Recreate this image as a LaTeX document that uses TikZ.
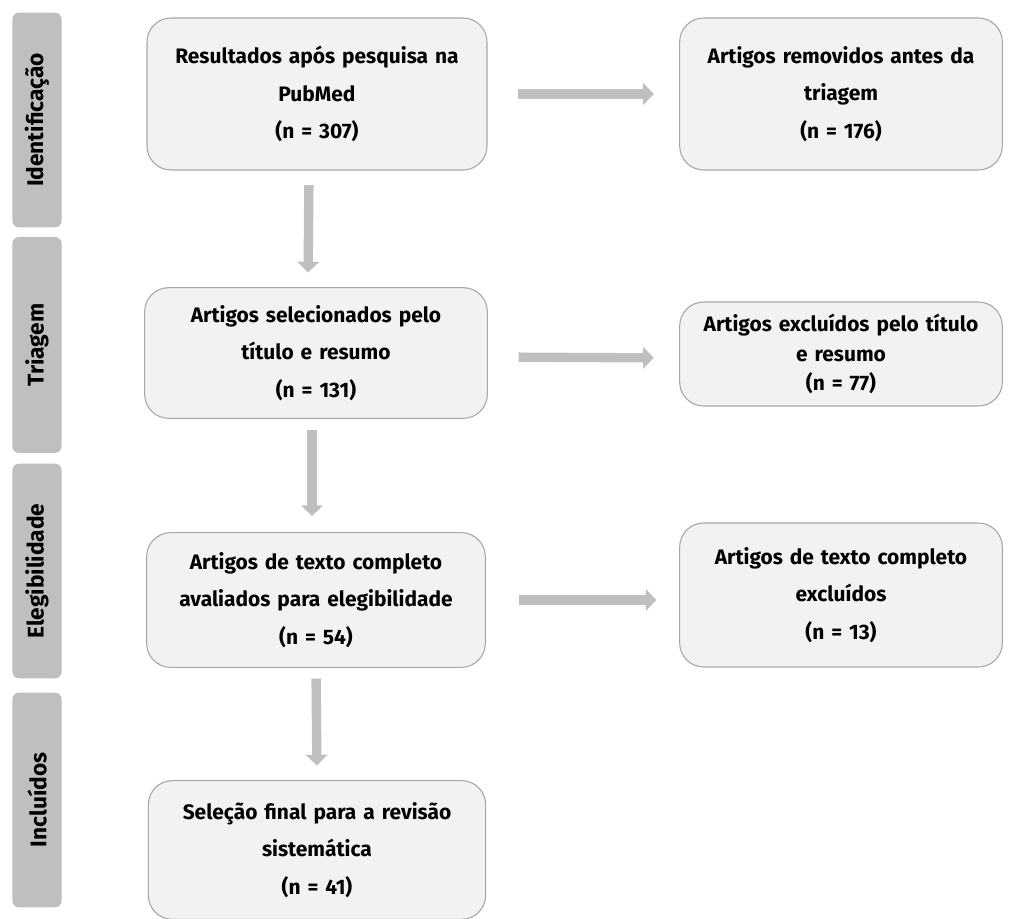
\documentclass[tikz,border=0pt]{standalone}
\usepackage{fontspec}
\setmainfont{Fira Sans}
\usepackage{tikz}
\usetikzlibrary{arrows.meta, positioning, calc}

\definecolor{boxfill}{HTML}{F2F2F2}
\definecolor{boxline}{HTML}{A6A6A6}
\definecolor{barfill}{HTML}{BFBFBF}

\begin{document}
\begin{tikzpicture}[x=0.75pt, y=-0.75pt,
    stagebox/.style={draw=boxline, fill=boxfill, line width=0.8pt, rounded corners=18pt,
        align=center, inner sep=0pt, text width=240pt,
        font=\bfseries\fontsize{15.7}{28}\selectfont},
    sidebox/.style={stagebox, minimum width=242pt, text width=234pt},
    phasebar/.style={fill=barfill, rounded corners=5pt, minimum width=37pt, inner sep=0pt},
    phaselabel/.style={rotate=90, font=\bfseries\fontsize{17}{20}\selectfont},
    flow/.style={line width=7pt, draw=barfill,
        -{Triangle[width=16pt, length=8pt]}}]
\useasboundingbox (0,0) rectangle (1011,919);

% fases
\node[phasebar, minimum height=161pt] (fid) at (37,120) {};
\node[phaselabel] at (fid) {Identificação};
\node[phasebar, minimum height=162pt] (ftr) at (37,345) {};
\node[phaselabel] at (ftr) {Triagem};
\node[phasebar, minimum height=161pt] (fel) at (37,571) {};
\node[phaselabel] at (fel) {Elegibilidade};
\node[phasebar, minimum height=161pt] (fin) at (37,800) {};
\node[phaselabel] at (fin) {Incluídos};

% caixas principais
\node[stagebox, minimum width=255pt, minimum height=114pt] (res) at (317,94)
    {Resultados após pesquisa na\\ PubMed\\ (n = 307)};
\node[stagebox, minimum width=257pt, minimum height=98pt] (sel) at (316,353)
    {Artigos selecionados pelo\\ título e resumo\\ (n = 131)};
\node[stagebox, minimum width=254pt, minimum height=101pt] (ava) at (316,600)
    {Artigos de texto completo\\ avaliados para elegibilidade\\ (n = 54)};
\node[stagebox, minimum width=253pt, minimum height=104pt] (fin) at (317,850)
    {Seleção final para a revisão\\ sistemática\\ (n = 41)};

% exclusoes
\node[sidebox, minimum height=114pt] (rem) at (841,94)
    {Artigos removidos antes da\\ triagem\\ (n = 176)};
\node[sidebox, minimum height=78pt, font=\bfseries\fontsize{15.7}{22}\selectfont] (exc) at (841,354)
    {Artigos excluídos pelo título\\ e resumo\\ (n = 77)};
\node[sidebox, minimum height=108pt] (exl) at (841,595)
    {Artigos de texto completo\\ excluídos\\ (n = 13)};

% setas
\draw[flow, shorten <=11pt, shorten >=11pt] ([xshift=-6pt]res.south) -- ([xshift=-6pt]sel.north);
\draw[flow, shorten <=8pt, shorten >=12pt] ([xshift=-3pt]sel.south) -- ([xshift=-3pt]ava.north);
\draw[flow, shorten <=8pt, shorten >=11pt] (ava.south) -- (fin.north);
\draw[flow, shorten <=23pt, shorten >=19pt] (res.east) -- (rem.west);
\draw[flow, shorten <=23pt, shorten >=19pt] ([yshift=-3pt]sel.east) -- ([yshift=-3pt]exc.west);
\draw[flow, shorten <=25pt, shorten >=17pt] (ava.east) -- (ava.east -| exl.west);
\end{tikzpicture}
\end{document}
